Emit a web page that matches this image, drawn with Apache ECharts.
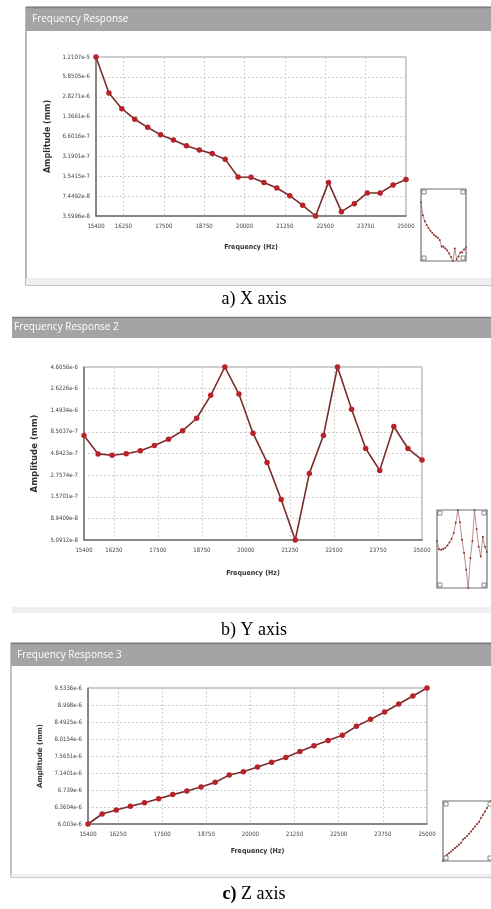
<!DOCTYPE html>
<html><head><meta charset="utf-8">
<script src="https://cdn.jsdelivr.net/npm/echarts@6/dist/echarts.min.js"></script>
<style>html,body{margin:0;padding:0;background:#fff;}#c{width:491px;height:909px;}</style>
</head><body><div id="c"></div>
<script>
// ---- data ----
const frequencies = [15400,15800,16200,16600,17000,17400,17800,18200,18600,19000,19400,19800,20200,20600,21000,21400,21800,22200,22600,23000,23400,23800,24200,24600,25000];
const freqTicks = [15400,16250,17500,18750,20000,21250,22500,23750,25000];

const ampX = [1.2107e-5,3.246e-6,1.827e-6,1.243e-6,9.23e-7,7.05e-7,5.83e-7,4.72e-7,4.02e-7,3.53e-7,2.86e-7,1.498e-7,1.49e-7,1.231e-7,1.004e-7,7.56e-8,5.33e-8,3.5996e-8,1.231e-7,4.22e-8,5.65e-8,8.37e-8,8.37e-8,1.119e-7,1.363e-7];
const ampY = [7.73e-7,4.79e-7,4.63e-7,4.82e-7,5.21e-7,5.96e-7,7.02e-7,8.74e-7,1.213e-6,2.202e-6,4.6056e-6,2.278e-6,8.22e-7,3.84e-7,1.459e-7,5.0912e-8,2.884e-7,7.73e-7,4.6056e-6,1.536e-6,5.51e-7,3.12e-7,9.79e-7,5.51e-7,4.09e-7];
const ampZ = [6.003e-6,6.211e-6,6.294e-6,6.375e-6,6.453e-6,6.543e-6,6.634e-6,6.716e-6,6.809e-6,6.916e-6,7.090e-6,7.172e-6,7.285e-6,7.404e-6,7.529e-6,7.683e-6,7.836e-6,7.977e-6,8.117e-6,8.369e-6,8.569e-6,8.785e-6,9.029e-6,9.279e-6,9.5336e-6];

const ticksX = ['3.5996e-8','7.4492e-8','1.5415e-7','3.1901e-7','6.6016e-7','1.3661e-6','2.8271e-6','5.8505e-6','1.2107e-5'];
const ticksY = ['5.0912e-8','8.9409e-8','1.5701e-7','2.7574e-7','4.8423e-7','8.5037e-7','1.4934e-6','2.6226e-6','4.6056e-6'];
const ticksZ = ['6.003e-6','6.3604e-6','6.739e-6','7.1401e-6','7.5651e-6','8.0154e-6','8.4925e-6','8.998e-6','9.5336e-6'];

const titles = ['Frequency Response','Frequency Response 2','Frequency Response 3'];
const captions = ['a) X axis','b) Y axis','c) Z axis'];
const xName = 'Frequency (Hz)';
const yName = 'Amplitude (mm)';

// ---- layout ----
const panels = [
  {amp: ampX, ticks: ticksX, grid:{left:96, top:57, width:310, height:159}, yGap:31, xGap:28, yNameSize:8,
   thumb:{left:421, top:202, width:45, height:59}, box:[421,189,45,72]},
  {amp: ampY, ticks: ticksY, grid:{left:84, top:367, width:338, height:173}, yGap:33, xGap:30, yNameSize:8.5,
   thumb:{left:437, top:510, width:50, height:78}, box:[437,510,50,78]},
  {amp: ampZ, ticks: ticksZ, grid:{left:88, top:688, width:339, height:136}, yGap:35, xGap:24, yNameSize:7,
   thumb:{left:443, top:801, width:48, height:60}, box:[443,801,50,60]}
];

const NARROW = "'Liberation Sans Narrow','DejaVu Sans Condensed',sans-serif";
const grids = [], xAxes = [], yAxes = [], series = [];

function toPos(v, ticks){
  const lo = Math.log(parseFloat(ticks[0])), hi = Math.log(parseFloat(ticks[ticks.length-1]));
  return (ticks.length-1) * (Math.log(v)-lo)/(hi-lo);
}

panels.forEach((p, i) => {
  const gi = grids.length;
  grids.push(Object.assign({show:true, borderColor:'#9a9a9a', borderWidth:1, backgroundColor:'#fff'}, p.grid));
  xAxes.push({
    type:'value', gridIndex:gi, min:15400, max:25000,
    name:xName, nameLocation:'middle', nameGap:p.xGap,
    nameTextStyle:{fontFamily:NARROW, fontWeight:'bold', fontSize:7, color:'#333'},
    axisLine:{show:true, lineStyle:{color:'#707070', width:1.5}},
    axisTick:{show:false, customValues:freqTicks},
    axisLabel:{customValues:freqTicks, fontFamily:NARROW, fontSize:6, color:'#444', margin:7,
      formatter:(v)=>String(Math.round(v))},
    splitLine:{show:true, lineStyle:{color:'#cfcfcf', type:[2,2], width:1}}
  });
  yAxes.push({
    type:'value', gridIndex:gi, min:0, max:p.ticks.length-1, interval:1,
    name:yName, nameLocation:'middle', nameGap:p.yGap,
    nameTextStyle:{fontFamily:"'DejaVu Sans',sans-serif", fontWeight:'bold', fontSize:p.yNameSize, color:'#333'},
    axisLine:{show:true, lineStyle:{color:'#707070', width:1.5}},
    axisTick:{show:false},
    axisLabel:{fontFamily:NARROW, fontSize:6, color:'#444', margin:6,
      formatter:(v)=>p.ticks[Math.round(v)]},
    splitLine:{show:true, lineStyle:{color:'#cfcfcf', type:[2,2], width:1}}
  });
  const pts = frequencies.map((f,k)=>[f, toPos(p.amp[k], p.ticks)]);
  series.push({type:'line', xAxisIndex:gi, yAxisIndex:gi, data:pts, symbol:'circle', symbolSize:5.5,
    lineStyle:{color:'#7a2b2b', width:1.6}, itemStyle:{color:'#b8222a'}, animation:false, z:3});
  // thumbnail
  const ti = grids.length;
  grids.push(Object.assign({show:false}, p.thumb));
  xAxes.push({type:'value', gridIndex:ti, min:15400, max:25000, show:false});
  yAxes.push({type:'value', gridIndex:ti, min:0, max:p.ticks.length-1, show:false});
  series.push({type:'line', xAxisIndex:ti, yAxisIndex:ti, data:pts, symbol:'circle', symbolSize:2,
    lineStyle:{color:'#b07070', width:0.8}, itemStyle:{color:'#8a3030'}, animation:false, silent:true, z:3});
});

// ---- decorations ----
const g = [];
function rect(x,y,w,h,fill,stroke,lw,z){ g.push({type:'rect', shape:{x,y,width:w,height:h}, style:{fill:fill||'none', stroke:stroke||null, lineWidth:lw||0}, z:z===undefined?-10:z, silent:true}); }
function text(x,y,t,st,z){ g.push({type:'text', x, y, style:Object.assign({text:t}, st), z:z||10, silent:true}); }

// panel frames
const frames = [
  {x:26, y:7, w:470, h:278, bar:24, band:[278,7], border:'#8a8a8a', tx:32, ty:19.5},
  {x:12, y:317, w:484, h:296, bar:21, band:[607,6], border:null, tx:14, ty:327.5},
  {x:11, y:643, w:485, h:234, bar:23, band:[874,3], border:'#9a9a9a', tx:17, ty:655}
];
frames.forEach((f,i)=>{
  rect(f.x, f.y, f.w, f.h, '#ffffff', f.border, f.border?1.2:0, -20);
  rect(f.x, f.band[0], f.w, f.band[1], '#efefef', null, 0, -15);
  rect(f.x, f.y, f.w, f.bar, '#a4a4a4', null, 0, -15);
  g.push({type:'line', shape:{x1:f.x, y1:f.y+0.5, x2:f.x+f.w, y2:f.y+0.5}, style:{stroke:'#808080', lineWidth:1.5}, z:-14, silent:true});
  text(f.tx, f.ty, titles[i], {fill:'#ffffff', font:"10px 'Open Sans', sans-serif", textVerticalAlign:'middle'});
});
// thumbnail boxes
panels.forEach(p=>{
  const [x,y,w,h] = p.box;
  rect(x,y,w,h,'none','#707070',1.2, 20);
  [[x+1,y+1],[x+w-5,y+1],[x+1,y+h-5],[x+w-5,y+h-5]].forEach(c=>rect(c[0],c[1],4,4,'#fff','#707070',0.8,21));
});
// captions
const capY = [299, 630, 894];
text(254, capY[0], captions[0], {fill:'#000', font:"18px 'Liberation Serif', serif", textAlign:'center', textVerticalAlign:'middle'});
text(254, capY[1], captions[1], {fill:'#000', font:"18px 'Liberation Serif', serif", textAlign:'center', textVerticalAlign:'middle'});
g.push({type:'text', x:254, y:capY[2], silent:true, z:10, style:{
  text:'{b|' + captions[2].slice(0,2) + '}{n|' + captions[2].slice(2) + '}',
  rich:{b:{font:"bold 18px 'Liberation Serif', serif", fill:'#000'}, n:{font:"18px 'Liberation Serif', serif", fill:'#000'}},
  textAlign:'center', textVerticalAlign:'middle'}});

const chart = echarts.init(document.getElementById('c'), null, {renderer:'canvas'});
chart.setOption({
  animation:false, backgroundColor:'#ffffff',
  grid:grids, xAxis:xAxes, yAxis:yAxes, series:series, graphic:{elements:g}
});
</script></body></html>
